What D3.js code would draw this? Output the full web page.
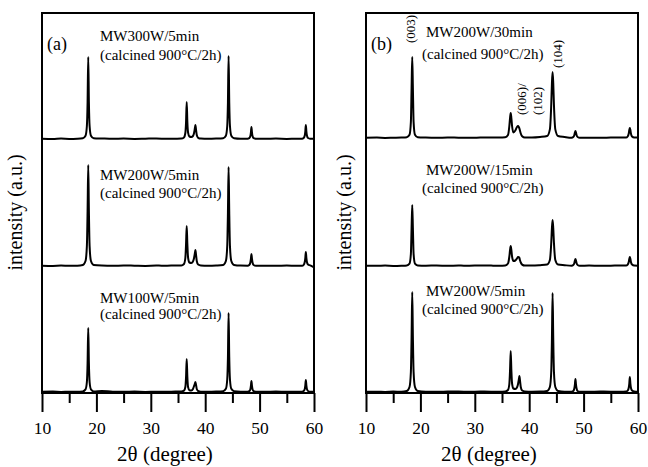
<!DOCTYPE html>
<html><head><meta charset="utf-8">
<script src="https://cdn.jsdelivr.net/npm/d3@7"></script>
<style>
html,body{margin:0;padding:0;background:#fff;}
svg{display:block;}
svg text{font-family:"Liberation Serif","Times New Roman",Times,serif;fill:#000;}
</style>
</head><body>
<svg id="chart" width="648" height="467"></svg>
<script>
// ---------- data ----------
const twoTheta = [10, 12, 13.5, 15, 16.5,
  17.5, 18, 18.25, 18.38, 18.5, 18.62, 18.75, 19, 19.5,
  21, 23, 25, 27, 29, 31, 33, 34.5,
  35.6, 36.1, 36.35, 36.48, 36.6, 36.72, 36.85, 37.1, 37.45, 37.75, 37.95, 38.08, 38.2, 38.32, 38.45, 38.7, 39.2,
  40.5, 42,
  43.3, 43.8, 44.05, 44.18, 44.3, 44.42, 44.55, 44.8, 45.3,
  46.5,
  47.8, 48.1, 48.3, 48.4, 48.5, 48.6, 48.7, 48.9, 49.3,
  51, 53, 55, 56.8,
  57.8, 58.1, 58.3, 58.4, 58.5, 58.6, 58.7, 58.9, 59.3,
  60];

// panel (a)
const mw300w5min = [0.2, 0, 0.4, 0.1, 0.3,
  0.8, 3.3, 13, 37, 82, 37, 13, 3.3, 0.8,
  0.5, 0.2, 0.4, 0.1, 0.3, 0.5, 0.2, 0.3,
  0.4, 1.5, 6, 17, 37, 17, 6.5, 2.5, 2, 3, 6, 10, 14, 9, 4, 1.2, 0.4,
  0.2, 0.4,
  0.8, 3.3, 13, 37, 83, 37, 13, 3.3, 0.8,
  0.3,
  0.3, 0.8, 3, 6.5, 12, 6.5, 3, 0.8, 0.3,
  0.2, 0.4, 0.1, 0.3,
  0.3, 1, 3.5, 7.5, 14, 7.5, 3.5, 1, 0.3,
  0.2];
const mw200w5minA = [0.3, 0.1, 0.4, 0.2, 0.3,
  1, 5, 20, 55, 101, 55, 20, 5, 1,
  0.4, 0.2, 0.5, 0.3, 0.1, 0.4, 0.3, 0.5,
  0.5, 2, 8, 22, 40, 22, 8.5, 3.5, 3, 4.5, 8, 12, 16, 11, 5, 1.5, 0.5,
  0.3, 0.5,
  1, 5, 20, 54, 99, 54, 20, 5, 1,
  0.4,
  0.3, 1, 3.5, 7, 12, 7, 3.5, 1, 0.3,
  0.3, 0.2, 0.4, 0.3,
  0.3, 1.2, 4, 8, 14, 8, 4, 1.5, 0.6,
  -1.5];
const mw100w5min = [0.2, 0.4, 0.1, 0.3, 0.2,
  0.6, 2.6, 10, 29, 64, 29, 10, 2.6, 0.6,
  1.0, 0.3, 0.2, 0.4, 0.1, 0.3, 0.2, 0.4,
  0.4, 1.3, 5, 15, 33, 15, 5, 1.8, 1.5, 3, 6, 8, 10, 7, 3, 1, 0.3,
  0.2, 0.4,
  0.8, 3.2, 12.5, 35, 79, 35, 12.5, 3.2, 0.8,
  0.3,
  0.3, 0.8, 2.8, 6, 11, 6, 2.8, 0.8, 0.3,
  0.2, 0.4, 0.2, 0.3,
  0.3, 1, 3, 6.5, 12, 6.5, 3, 1, 0.3,
  0.2];

// panel (b)
const mw200w30min = [0.2, 0.4, 0.1, 0.3, 0.5,
  0.8, 3.2, 16, 50, 81, 50, 16, 3.2, 0.8,
  0.4, 0.2, 0.5, 0.3, 0.2, 0.4, 0.6, 0.5,
  0.8, 3, 12, 20, 25, 20, 12, 5.5, 7.5, 11, 12, 11, 9.5, 7, 4.5, 1.8, 0.5,
  0.5, 1.0,
  2, 8.6, 33, 55, 66, 55, 33, 8.6, 2,
  1.0,
  0.3, 1, 3, 5.5, 7, 5.5, 3, 1, 0.3,
  0.3, 0.2, 0.4, 0.5,
  0.4, 1.5, 4.5, 8, 10, 8, 4.5, 1.5, 0.4,
  0.4];
const mw200w15min = [0.3, 0.2, 0.4, 0.1, 0.3,
  0.6, 2.4, 12, 38, 61, 38, 12, 2.4, 0.6,
  0.3, 0.5, 0.2, 0.4, 0.3, 0.6, 0.4, 0.3,
  0.6, 2.5, 9.5, 16, 20, 16, 9.5, 5, 5.5, 7.5, 9, 8.8, 8, 5.5, 3.5, 1.4, 0.4,
  0.4, 0.8,
  1.4, 6, 23, 38, 46, 38, 23, 6, 1.4,
  0.8,
  0.3, 1, 3, 5.5, 7, 5.5, 3, 1, 0.3,
  0.4, 0.2, 0.3, 0.5,
  0.4, 1.4, 4, 7, 9, 7, 4, 1.4, 0.4,
  0.3];
const mw200w5minB = [0.2, 0.3, 0.1, 0.4, 0.2,
  1, 5, 20, 55, 100, 55, 20, 5, 1,
  0.3, 0.2, 0.4, 0.5, 0.2, 0.4, 0.3, 0.2,
  0.5, 2, 8, 22, 41, 22, 8.5, 3.5, 3, 4.5, 8, 12, 16, 11, 5, 1.5, 0.5,
  0.3, 0.4,
  1, 5, 20, 54, 99, 54, 20, 5, 1,
  0.3,
  0.3, 1, 3.8, 7.5, 13, 7.5, 3.8, 1, 0.3,
  0.2, 0.4, 0.3, 0.2,
  0.4, 1.3, 4.3, 8.5, 15, 8.5, 4.3, 1.5, 0.5,
  0.2];

// vertical stacking offsets (a.u.), bottom -> top
const offsetsA = [1, 127, 254];
const offsetsB = [1, 127, 255];
const namesA = ["MW100W/5min", "MW200W/5min", "MW300W/5min"];
const namesB = ["MW200W/5min", "MW200W/15min", "MW200W/30min"];
const calcText = "(calcined 900°C/2h)";
const majorTicks = [10, 20, 30, 40, 50, 60];
const minorTicks = [15, 25, 35, 45, 55];
const hklLabels = ["(003)", "(006)/", "(102)", "(104)"];

// ---------- layout ----------
const FONT = "Liberation Serif";
const svg = d3.select("#chart");
const plotTop = 13, plotBottom = 393;
const yScale = d3.scaleLinear().domain([0, 380]).range([plotBottom, plotTop]);

const panels = [
  { left: 42, right: 314, letter: "(a)", series: [mw100w5min, mw200w5minA, mw300w5min], offsets: offsetsA, names: namesA,
    labelX: [100, 100], labelY: [[303, 319], [180, 198], [41, 60]], ylabX: 22 },
  { left: 366, right: 638, letter: "(b)", series: [mw200w5minB, mw200w15min, mw200w30min], offsets: offsetsB, names: namesB,
    labelX: [426, 422], labelY: [[296, 314], [175, 193], [37, 59]], ylabX: 351 }
];

function txt(sel) { return sel.append("text").attr("font-family", FONT); }

panels.forEach((p) => {
  const x = d3.scaleLinear().domain([10, 60]).range([p.left, p.right]);
  const g = svg.append("g");

  // traces
  const line = d3.line().curve(d3.curveMonotoneX);
  p.series.forEach((s, si) => {
    const pts = twoTheta.map((t, i) => [x(t), yScale(s[i] + p.offsets[si])]);
    g.append("path").attr("d", line(pts)).attr("fill", "none")
      .attr("stroke", "#000").attr("stroke-width", 2).attr("stroke-linejoin", "round");
  });

  // frame
  g.append("rect").attr("x", p.left).attr("y", plotTop)
    .attr("width", p.right - p.left).attr("height", plotBottom - plotTop)
    .attr("fill", "none").attr("stroke", "#000").attr("stroke-width", 2);

  // axes
  const major = g.append("g").attr("transform", `translate(0,${plotBottom})`)
    .call(d3.axisBottom(x).tickValues(majorTicks).tickSize(19).tickFormat(d3.format("d")));
  major.attr("font-family", FONT).attr("font-size", 17.5);
  major.select(".domain").remove();
  major.selectAll("line").attr("stroke", "#000").attr("stroke-width", 2);
  major.selectAll("text").attr("y", 41).attr("dy", 0).attr("fill", "#000").attr("font-family", FONT);
  const minor = g.append("g").attr("transform", `translate(0,${plotBottom})`)
    .call(d3.axisBottom(x).tickValues(minorTicks).tickSize(10).tickFormat(""));
  minor.select(".domain").remove();
  minor.selectAll("line").attr("stroke", "#000").attr("stroke-width", 2);

  // axis titles
  txt(g).attr("x", (p.left + p.right) / 2 - 13).attr("y", 461)
    .attr("text-anchor", "middle").attr("font-size", 21).text("2θ (degree)");
  txt(g).attr("transform", `translate(${p.ylabX},212.5) rotate(-90)`)
    .attr("text-anchor", "middle").attr("font-size", 20).text("intensity (a.u.)");

  // panel letter
  txt(g).attr("x", p.left + 5).attr("y", 50).attr("font-size", 18).text(p.letter);

  // sample labels
  p.names.forEach((n, si) => {
    txt(g).attr("x", p.labelX[0]).attr("y", p.labelY[si][0]).attr("font-size", 15).text(n);
    txt(g).attr("x", p.labelX[1]).attr("y", p.labelY[si][1]).attr("font-size", 15).text(calcText);
  });
});

// Miller indices in panel (b)
const hklPos = [[415, 43], [526, 115], [542, 115], [562, 68]];
hklLabels.forEach((h, i) => {
  txt(svg).attr("transform", `translate(${hklPos[i][0]},${hklPos[i][1]}) rotate(-90)`)
    .attr("font-size", 13).text(h);
});
</script>
</body></html>
